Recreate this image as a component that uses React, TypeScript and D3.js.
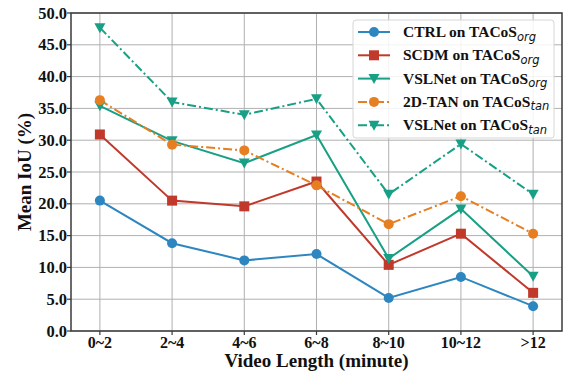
import React from "react";
import * as d3 from "d3";

const categories = ["0~2", "2~4", "4~6", "6~8", "8~10", "10~12", ">12"];
const yTicks = [0, 5, 10, 15, 20, 25, 30, 35, 40, 45, 50];

const ctrlOrg = [20.5, 13.8, 11.1, 12.1, 5.2, 8.5, 3.9];
const scdmOrg = [30.9, 20.5, 19.6, 23.5, 10.4, 15.3, 6.0];
const vslOrg = [35.4, 29.9, 26.4, 30.8, 11.4, 19.2, 8.6];
const tanTan = [36.3, 29.3, 28.4, 22.9, 16.8, 21.2, 15.3];
const vslTan = [47.7, 36.0, 34.0, 36.5, 21.5, 29.4, 21.5];

const seriesNames = ["CTRL on TACoS", "SCDM on TACoS", "VSLNet on TACoS", "2D-TAN on TACoS", "VSLNet on TACoS"];
const seriesSubs = ["org", "org", "org", "tan", "tan"];

const W = 567, H = 372;
const left = 71, right = 562, top = 13, bottom = 331;

type S = { name: string; sub: string; values: number[]; color: string; marker: string; dash: string };

const series: S[] = [
  { name: seriesNames[0], sub: seriesSubs[0], values: ctrlOrg, color: "#2e86c1", marker: "circle", dash: "" },
  { name: seriesNames[1], sub: seriesSubs[1], values: scdmOrg, color: "#c0392b", marker: "square", dash: "" },
  { name: seriesNames[2], sub: seriesSubs[2], values: vslOrg, color: "#17a085", marker: "tri", dash: "" },
  { name: seriesNames[3], sub: seriesSubs[3], values: tanTan, color: "#e67e22", marker: "circle", dash: "9,3,2,3" },
  { name: seriesNames[4], sub: seriesSubs[4], values: vslTan, color: "#17a085", marker: "tri", dash: "9,3,2,3" },
];

function Marker({ type, x, y, color }: { type: string; x: number; y: number; color: string }) {
  if (type === "circle") return <circle cx={x} cy={y} r={5} fill={color} />;
  if (type === "square") return <rect x={x - 5} y={y - 5} width={10} height={10} fill={color} />;
  return <path d={`M${x - 5.5},${y - 4.5}L${x + 5.5},${y - 4.5}L${x},${y + 5.5}Z`} fill={color} />;
}

const serif = "Liberation Serif";

export default function App() {
  const x = d3.scalePoint<string>().domain(categories).range([left, right]).padding(0.4);
  const y = d3.scaleLinear().domain([0, 50]).range([bottom, top]);
  const line = d3.line<number>().x((_, i) => x(categories[i]) as number).y((d) => y(d));
  const legX = 353, legY = 20, legRow = 23.3;

  return (
    <svg width={W} height={H} style={{ position: "absolute", left: 0, top: 0, background: "#fff" }}>
      {yTicks.map((t) => (
        <line key={"gy" + t} x1={left} x2={right} y1={y(t)} y2={y(t)} stroke="#b0b0b0" strokeWidth={1} />
      ))}
      {categories.map((c) => (
        <line key={"gx" + c} x1={x(c)} x2={x(c)} y1={top} y2={bottom} stroke="#b0b0b0" strokeWidth={1} />
      ))}
      {series.map((s, i) => (
        <path key={"l" + i} d={line(s.values) || ""} fill="none" stroke={s.color} strokeWidth={2} strokeDasharray={s.dash} />
      ))}
      {series.map((s, i) =>
        s.values.map((v, j) => <Marker key={"m" + i + "-" + j} type={s.marker} x={x(categories[j]) as number} y={y(v)} color={s.color} />)
      )}
      <rect x={left} y={top} width={right - left} height={bottom - top} fill="none" stroke="#3a3a3a" strokeWidth={1.5} />
      {yTicks.map((t) => (
        <g key={"yt" + t}>
          <line x1={left - 4} x2={left} y1={y(t)} y2={y(t)} stroke="#3a3a3a" strokeWidth={1.2} />
          <text x={left - 4} y={y(t) + 5.5} textAnchor="end" style={{ fontFamily: serif, fontWeight: 700, fontSize: 16.5 }} fill="#111">
            {t.toFixed(1)}
          </text>
        </g>
      ))}
      {categories.map((c) => (
        <g key={"xt" + c}>
          <line x1={x(c)} x2={x(c)} y1={bottom} y2={bottom + 4} stroke="#3a3a3a" strokeWidth={1.2} />
          <text x={x(c)} y={bottom + 16.5} textAnchor="middle" style={{ fontFamily: serif, fontWeight: 700, fontSize: 16 }} fill="#111">
            {c}
          </text>
        </g>
      ))}
      <text x={(left + right) / 2} y={367} textAnchor="middle" style={{ fontFamily: serif, fontWeight: 700, fontSize: 19 }} fill="#111">
        Video Length (minute)
      </text>
      <text transform={`translate(31,${(top + bottom) / 2}) rotate(-90)`} textAnchor="middle" style={{ fontFamily: serif, fontWeight: 700, fontSize: 19 }} fill="#111">
        Mean IoU (%)
      </text>
      <rect x={legX} y={legY} width={201} height={118} rx={3} fill="#fff" fillOpacity={0.85} stroke="#d6d6d6" strokeWidth={1} />
      {series.map((s, i) => {
        const ry = legY + 12 + i * legRow;
        return (
          <g key={"lg" + i}>
            <line x1={358} x2={390} y1={ry} y2={ry} stroke={s.color} strokeWidth={2} strokeDasharray={s.dash} />
            <Marker type={s.marker} x={374} y={ry} color={s.color} />
            <text x={403} y={ry + 5} style={{ fontFamily: serif, fontWeight: 700, fontSize: 15.5 }} fill="#111">
              {s.name}
              <tspan style={{ fontFamily: "DejaVu Sans", fontStyle: "italic", fontWeight: 400, fontSize: 11.5 }} dy={3.5}>
                {s.sub}
              </tspan>
            </text>
          </g>
        );
      })}
    </svg>
  );
}
